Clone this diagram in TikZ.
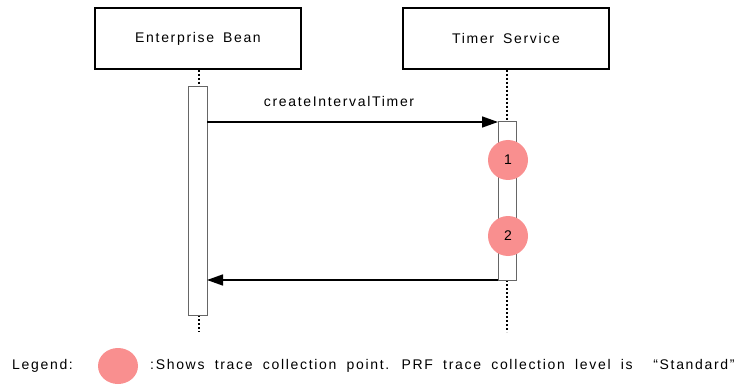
\documentclass[tikz,border=0pt]{standalone}
\usepackage{fontspec}
\setmainfont{Liberation Sans}[LetterSpace=12,WordSpace=1.6]
\newfontfamily\legfont{Liberation Sans}[LetterSpace=12,WordSpace=1.85]
\usetikzlibrary{arrows.meta,shapes.geometric}
\definecolor{trace}{HTML}{F98F8F}
\begin{document}
\begin{tikzpicture}[x=1pt,y=-1pt,
  txt/.style={font=\fontsize{14}{16}\selectfont},
  objbox/.style={draw,line width=1.2pt,minimum width=206pt,minimum height=61pt,inner sep=0pt,txt},
  actbox/.style={draw=black!60,fill=white,line width=0.6pt},
  life/.style={dashed,dash pattern=on 2pt off 2pt,line width=1.2pt},
  msg/.style={line width=1.5pt,-{Triangle[length=16pt,width=11pt]}},
  pt/.style={circle,fill=trace,minimum size=40pt,inner sep=0pt,txt},
  lbl/.style={txt,inner sep=0pt}]
\useasboundingbox (0,0) rectangle (742,385);
\node[objbox] (eb) at (198,38.5) {Enterprise Bean};
\node[objbox] (ts) at (506,38.5) {Timer Service};
\coordinate (ebtop) at (199,86);
\coordinate (ebbot) at (199,315);
\coordinate (ebend) at (199,332);
\coordinate (tstop) at (507,121);
\coordinate (tsbot) at (507,280);
\coordinate (tsend) at (507,332);
\draw[life] (eb.south -| ebtop) -- (ebtop);
\draw[life] (ebbot) -- (ebend);
\draw[life] (ts.south -| tstop) -- (tstop);
\draw[life] (tsbot) -- (tsend);
\node[actbox,minimum width=19pt,minimum height=229pt,inner sep=0pt] (eba) at (197.5,200.5) {};
\node[actbox,minimum width=18pt,minimum height=159pt,inner sep=0pt] (tsa) at (507,200.5) {};
\coordinate (m1s) at (207,122);
\coordinate (m1e) at (498,122);
\draw[msg] (m1s) -- (m1e);
\node[lbl] (m1l) at (339,101) {createIntervalTimer};
\coordinate (m2s) at (498,280);
\coordinate (m2e) at (207,280);
\draw[msg] (m2s) -- (m2e);
\node[pt] (p1) at (508,160) {1};
\node[pt] (p2) at (508,236) {2};
\node[lbl,anchor=west] (leg) at (12,366) {Legend:};
\node[ellipse,fill=trace,minimum width=40pt,minimum height=36pt,inner sep=0pt] (legpt) at (118,366) {};
\node[lbl,anchor=west] (legt) at (150,366) {\legfont :Shows trace collection point. PRF trace collection level is \ “Standard”};
\end{tikzpicture}
\end{document}
